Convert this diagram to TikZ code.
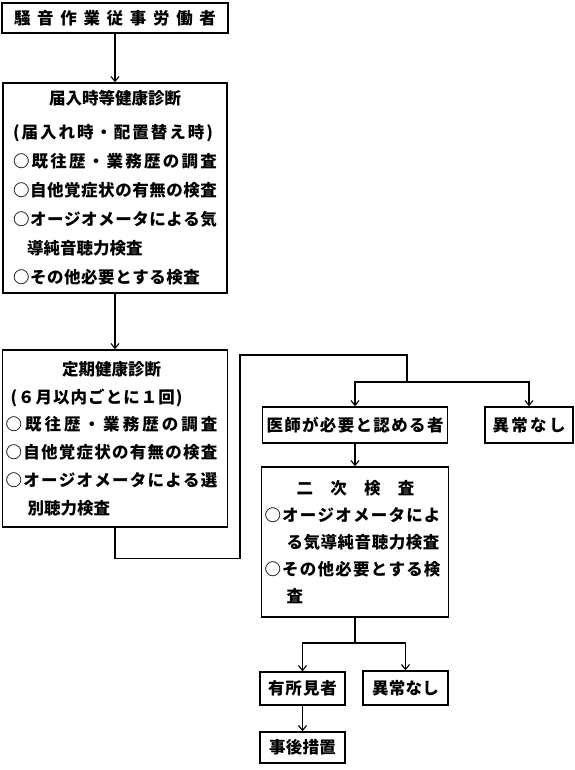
\documentclass[tikz,border=0pt]{standalone}
\usepackage{fontspec}
\setmainfont{Noto Sans CJK JP}
\usetikzlibrary{arrows.meta}
\makeatletter
\newcommand\spreadline[2]{\makebox[#1][s]{\@tfor\sp@ch:=#2\do{\sp@ch\hfil}\unskip}}
\makeatother
\begin{document}
\begin{tikzpicture}[x=1pt,y=-1pt,line width=1.1pt,
    >={Straight Barb[length=5pt,width=8pt]},
    box/.style={draw,line width=1.3pt,inner sep=0pt,font=\fontsize{16.5}{20}\selectfont\bfseries},
    multibox/.style={box,align=left,font=\fontsize{16.5}{#1}\selectfont\bfseries}]
    \useasboundingbox (0,0) rectangle (574,770);

    \node[box,minimum width=226pt,minimum height=30pt] (roudousha) at (115,18)
        {\spreadline{202pt}{騒音作業従事労働者}};

    \node[multibox=29,minimum width=224pt,minimum height=210pt,text width=204pt,inner xsep=10pt] (yatoiire) at (115,188)
        {\makebox[204pt]{届入時等健康診断}\\[5pt]
         \spreadline{200pt}{(届入れ時・配置替え時)}\\
         \spreadline{204pt}{○既往歴・業務歴の調査}\\
         \spreadline{204pt}{○自他覚症状の有無の検査}\\
         \spreadline{204pt}{○オージオメータによる気}\\
         \hspace*{14pt}導純音聴力検査\\
         \spreadline{187pt}{○その他必要とする検査}};

    \node[multibox=27.8,minimum width=225pt,minimum height=177pt,text width=219pt,inner xsep=3pt] (teiki) at (115,438.5)
        {\makebox[212pt]{定期健康診断}\\
         \hspace*{5pt}\spreadline{172pt}{(６月以内ごとに１回)}\\
         \spreadline{212pt}{○既往歴・業務歴の調査}\\
         \spreadline{212pt}{○自他覚症状の有無の検査}\\
         \spreadline{212pt}{○オージオメータによる選}\\
         \hspace*{22pt}別聴力検査};

    \node[box,minimum width=185pt,minimum height=36pt] (ishi) at (355,425)
        {\spreadline{177pt}{医師が必要と認める者}};
    \node[box,minimum width=88pt,minimum height=36pt] (ijou1) at (529,425)
        {\spreadline{73pt}{異常なし}};

    \node[multibox=27,minimum width=187pt,minimum height=150pt,text width=181pt,inner xsep=3pt] (niji) at (355,542)
        {\hspace*{32pt}\spreadline{118pt}{二次検査}\\
         \spreadline{176pt}{○オージオメータによ}\\
         \hspace*{22pt}\spreadline{153pt}{る気導純音聴力検査}\\
         \spreadline{176pt}{○その他必要とする検}\\
         \hspace*{22pt}査};

    \node[box,minimum width=85pt,minimum height=33pt] (yusho) at (302.5,688.5)
        {\spreadline{69pt}{有所見者}};
    \node[box,minimum width=85pt,minimum height=34pt] (ijou2) at (405.5,688)
        {\spreadline{67pt}{異常なし}};
    \node[box,minimum width=85pt,minimum height=31pt] (jigo) at (302.5,747.5)
        {\spreadline{67pt}{事後措置}};

    \coordinate (kaeri) at (240,355);
    \coordinate (bunki) at (407,382);
    \coordinate (bunki2) at (355,643);

    \draw[->] (roudousha) -- (yatoiire);
    \draw[->] (yatoiire) -- (teiki);
    \draw (teiki.south) -- ++(0,31) -| (kaeri) -| (bunki);
    \draw[->] (bunki) -| (ishi);
    \draw[->] (bunki) -| (ijou1);
    \draw[->] (ishi) -- (niji);
    \draw (niji) -- (bunki2);
    \draw[->] (bunki2) -| (yusho);
    \draw[->] (bunki2) -| (ijou2);
    \draw[->] (yusho) -- (jigo);
\end{tikzpicture}
\end{document}
